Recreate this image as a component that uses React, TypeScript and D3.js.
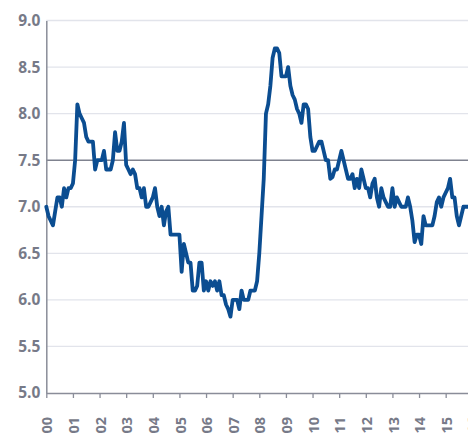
import React, { useEffect, useRef } from 'react';
import * as d3 from 'd3';

// monthly values, Jan 2000 onwards
const startYear = 2000;
const rate: number[] = [
  7.0, 6.9, 6.85, 6.8, 6.95, 7.1, 7.1, 7.0, 7.2, 7.1, 7.2, 7.2, // 2000
  7.25, 7.5, 8.1, 8.0, 7.95, 7.9, 7.75, 7.7, 7.7, 7.7, 7.4, 7.5, // 2001
  7.5, 7.5, 7.6, 7.4, 7.4, 7.4, 7.5, 7.8, 7.6, 7.6, 7.7, 7.9, // 2002
  7.45, 7.4, 7.35, 7.4, 7.35, 7.2, 7.2, 7.1, 7.2, 7.0, 7.0, 7.05, // 2003
  7.1, 7.2, 7.0, 6.9, 7.0, 6.8, 6.95, 7.0, 6.7, 6.7, 6.7, 6.7, // 2004
  6.7, 6.3, 6.6, 6.5, 6.4, 6.4, 6.1, 6.1, 6.15, 6.4, 6.4, 6.1, // 2005
  6.2, 6.1, 6.2, 6.15, 6.2, 6.1, 6.2, 6.05, 6.05, 5.95, 5.9, 5.82, // 2006
  6.0, 6.0, 6.0, 5.9, 6.1, 6.0, 6.0, 6.0, 6.1, 6.1, 6.1, 6.2, // 2007
  6.5, 6.9, 7.3, 8.0, 8.1, 8.3, 8.6, 8.7, 8.7, 8.65, 8.4, 8.4, // 2008
  8.4, 8.5, 8.3, 8.2, 8.15, 8.05, 8.0, 7.9, 8.1, 8.1, 8.05, 7.75, // 2009
  7.6, 7.6, 7.65, 7.7, 7.7, 7.6, 7.5, 7.5, 7.3, 7.32, 7.4, 7.4, // 2010
  7.5, 7.6, 7.5, 7.4, 7.3, 7.3, 7.35, 7.2, 7.3, 7.2, 7.4, 7.3, // 2011
  7.2, 7.2, 7.1, 7.25, 7.3, 7.1, 7.0, 7.2, 7.1, 7.05, 7.0, 7.0, // 2012
  7.2, 7.0, 7.1, 7.05, 7.0, 7.0, 7.0, 7.1, 7.0, 6.85, 6.62, 6.7, // 2013
  6.7, 6.6, 6.9, 6.8, 6.8, 6.8, 6.8, 6.9, 7.05, 7.1, 7.0, 7.1, // 2014
  7.15, 7.2, 7.3, 7.1, 7.1, 6.9, 6.8, 6.9, 7.0, 7.0, 7.0, // 2015
];

const yearLabels = ['00', '01', '02', '03', '04', '05', '06', '07', '08', '09', '10', '11', '12', '13', '14', '15', '16'];
const yTicks = [5.0, 5.5, 6.0, 6.5, 7.0, 7.5, 8.0, 8.5, 9.0];
const refLevel = 7.5;

const W = 468;
const H = 437;

const App: React.FC = () => {
  const ref = useRef<SVGSVGElement>(null);

  useEffect(() => {
    const svg = d3.select(ref.current);
    svg.selectAll('*').remove();

    const x = d3.scaleLinear().domain([startYear, startYear + 16]).range([46.3, 472.3]);
    const y = d3.scaleLinear().domain([5, 9]).range([393, 20.5]);
    const font = "'Open Sans', sans-serif";
    const labelColor = '#777a88';

    // gridlines, the 7.5 level drawn darker
    svg
      .append('g')
      .selectAll('line')
      .data(yTicks.filter((t) => t > 5))
      .join('line')
      .attr('x1', x(startYear))
      .attr('x2', W)
      .attr('y1', (d) => y(d))
      .attr('y2', (d) => y(d))
      .attr('stroke', (d) => (d === refLevel ? '#7f828f' : '#e2e4eb'))
      .attr('stroke-width', (d) => (d === refLevel ? 1.6 : 1.3));

    // y axis
    const yAxis = svg
      .append('g')
      .attr('transform', `translate(${x(startYear)},0)`)
      .call(d3.axisLeft(y).tickValues(yTicks).tickSize(0).tickPadding(6).tickFormat(d3.format('.1f')));
    yAxis.select('.domain').attr('stroke', '#8a8d99').attr('stroke-width', 1.5);
    yAxis
      .selectAll('text')
      .attr('fill', labelColor)
      .attr('font-family', font)
      .attr('font-weight', 700)
      .attr('font-size', 15.5);

    // x axis
    const years = yearLabels.map((_, i) => startYear + i);
    const xAxis = svg
      .append('g')
      .attr('transform', `translate(0,${y(5)})`)
      .call(
        d3
          .axisBottom(x)
          .tickValues(years)
          .tickSizeInner(5)
          .tickSizeOuter(0)
          .tickFormat((_, i) => yearLabels[i])
      );
    xAxis.select('.domain').attr('stroke', '#8a8d99').attr('stroke-width', 1.5);
    xAxis.selectAll('line').attr('stroke', '#8a8d99').attr('stroke-width', 1.3);
    xAxis
      .selectAll('text')
      .attr('fill', labelColor)
      .attr('font-family', font)
      .attr('font-weight', 700)
      .attr('font-size', 14.5)
      .attr('text-anchor', 'end')
      .attr('dy', '0.35em')
      .attr('y', 0)
      .attr('transform', 'translate(0.5,24) rotate(-90)');

    // the series
    const line = d3
      .line<number>()
      .x((_, i) => x(startYear + i / 12))
      .y((d) => y(d));

    svg
      .append('path')
      .datum(rate)
      .attr('d', line)
      .attr('fill', 'none')
      .attr('stroke', '#0b4d91')
      .attr('stroke-width', 3.8)
      .attr('stroke-linejoin', 'round')
      .attr('stroke-linecap', 'round');
  }, []);

  return (
    <svg
      ref={ref}
      width={W}
      height={H}
      style={{ position: 'absolute', left: 0, top: 0, background: '#fff' }}
    />
  );
};

export default App;
